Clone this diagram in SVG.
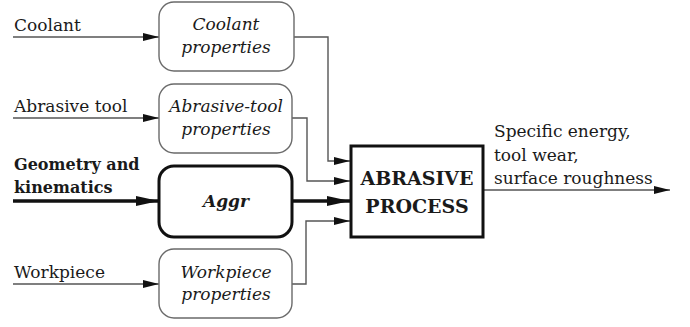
<svg xmlns="http://www.w3.org/2000/svg" width="690" height="327" viewBox="0 0 690 327">
<defs>
<style>
.t{font-family:"DejaVu Serif",serif;font-size:17px;fill:#1a1a1a}
.i{font-style:italic;text-anchor:middle}
.b{font-weight:bold}
.prop{fill:#fff;stroke:#6a6a6a;stroke-width:1.4}
.thick{fill:#fff;stroke:#111;stroke-width:3}
.ln{fill:none;stroke:#555;stroke-width:1.4}
.lk{fill:none;stroke:#111;stroke-width:3.5}
</style>
<marker id="a" markerUnits="userSpaceOnUse" markerWidth="16" markerHeight="8" refX="16" refY="4" orient="auto" overflow="visible"><path d="M0,0 L16,4 L0,8 z" fill="#111"/></marker>
<marker id="ak" markerUnits="userSpaceOnUse" markerWidth="23" markerHeight="10" refX="23" refY="5" orient="auto" overflow="visible"><path d="M0,0 L23,5 L0,10 z" fill="#111"/></marker>
</defs>
<rect width="690" height="327" fill="#fff"/>
<g id="connectors">
<path class="ln" d="M13,37 H159" marker-end="url(#a)"/>
<path class="ln" d="M13,118 H159" marker-end="url(#a)"/>
<path class="lk" d="M13,201 H159" marker-end="url(#ak)"/>
<path class="ln" d="M13,284 H159" marker-end="url(#a)"/>
<path class="ln" d="M294,37 H328 V161 H350" marker-end="url(#a)"/>
<path class="ln" d="M292,118 H307 V181 H350" marker-end="url(#a)"/>
<path class="lk" d="M292,201 H350" marker-end="url(#ak)"/>
<path class="ln" d="M292,284 H306 V221 H350" marker-end="url(#a)"/>
<path class="ln" d="M483,190 H670" marker-end="url(#a)"/>
</g>
<g id="in-coolant"><text class="t" x="14" y="31">Coolant</text></g>
<g id="in-tool"><text class="t" x="14" y="112">Abrasive tool</text></g>
<g id="in-geom"><text class="t b" font-size="16" x="14" y="170" style="font-size:16px">Geometry and</text><text class="t b" x="14" y="193" style="font-size:16px">kinematics</text></g>
<g id="in-workpiece"><text class="t" x="14" y="278">Workpiece</text></g>
<g id="coolant-props"><rect class="prop" x="159" y="2" width="135" height="69" rx="15"/><text class="t i" x="226" y="30">Coolant</text><text class="t i" x="226" y="53">properties</text></g>
<g id="tool-props"><rect class="prop" x="159" y="84" width="133" height="69" rx="15"/><text class="t i" x="226" y="112">Abrasive-tool</text><text class="t i" x="226" y="135">properties</text></g>
<g id="aggr"><rect class="thick" x="159" y="166" width="133" height="71" rx="15"/><text class="t i b" x="226" y="207">Aggr</text></g>
<g id="workpiece-props"><rect class="prop" x="159" y="249" width="133" height="69" rx="15"/><text class="t i" x="226" y="278">Workpiece</text><text class="t i" x="226" y="300">properties</text></g>
<g id="process"><rect class="thick" x="351" y="146" width="132" height="91"/><text class="t b" x="417" y="185" text-anchor="middle" style="font-size:19px">ABRASIVE</text><text class="t b" x="417" y="213" text-anchor="middle" style="font-size:19px">PROCESS</text></g>
<g id="output"><text class="t" x="494" y="137">Specific energy,</text><text class="t" x="494" y="161">tool wear,</text><text class="t" x="494" y="184">surface roughness</text></g>
</svg>
